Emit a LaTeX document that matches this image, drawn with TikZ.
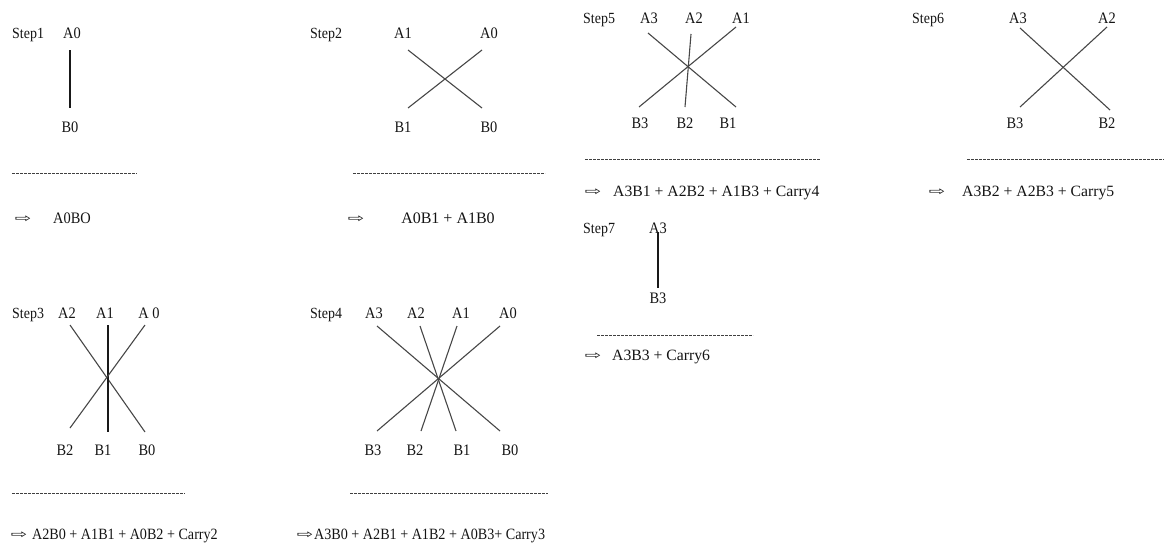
\documentclass[tikz,border=0pt]{standalone}
\usepackage{fontspec}
\setmainfont{Liberation Serif}
\newfontfamily\condfont{Liberation Serif}[FakeStretch=0.9]
\newfontfamily\symfont{DejaVu Sans}
\begin{document}
\begin{tikzpicture}[x=1pt,y=-1pt,
  lbl/.style={anchor=base,inner sep=0pt,text=black!92,font=\condfont\fontsize{16}{16}\selectfont},
  steplbl/.style={anchor=base west,inner sep=0pt,text=black!92,font=\condfont\fontsize{15.5}{15.5}\selectfont},
  frm/.style={anchor=base west,inner sep=0pt,text=black!92,font=\fontsize{15.7}{15.7}\selectfont},
  cfrm/.style={anchor=base west,inner sep=0pt,text=black!92,font=\condfont\fontsize{15.7}{15.7}\selectfont},
  arr/.style={anchor=base,inner sep=0pt,text=black!92,font=\symfont\fontsize{14}{14}\selectfont},
  wire/.style={draw=black!72,line width=1.1pt},
  vwire/.style={draw=black!90,line width=1.1pt},
  sep/.style={draw=black!75,line width=1pt,dash pattern=on 2.8pt off 1.2pt}]
\useasboundingbox (0,0) rectangle (1166,546);
\newcommand{\harrow}{\scalebox{1.4}[0.85]{⇨}}

% ---------- Step 1 ----------
\node[steplbl] (s1) at (12,38) {Step1};
\node[lbl] (s1a0) at (72,38) {A0};
\node[lbl] (s1b0) at (70,132) {B0};
\coordinate (s1p) at (70,50); \coordinate (s1q) at (70,108);
\draw[vwire] (s1p) -- (s1q);
\coordinate (s1d1) at (12,173); \coordinate (s1d2) at (137,173);
\draw[sep] (s1d1) -- (s1d2);
\node[arr] (s1ar) at (23,222) {\harrow};
\node[lbl] (s1f) at (72,223) {A0BO};

% ---------- Step 2 ----------
\node[steplbl] (s2) at (310,38) {Step2};
\node[lbl] (s2a1) at (403,38) {A1};
\node[lbl] (s2a0) at (489,38) {A0};
\node[lbl] (s2b1) at (403,132) {B1};
\node[lbl] (s2b0) at (489,132) {B0};
\coordinate (s2p1) at (408,50); \coordinate (s2q0) at (482,108);
\coordinate (s2p0) at (482,50); \coordinate (s2q1) at (408,108);
\draw[wire] (s2p1) -- (s2q0);
\draw[wire] (s2p0) -- (s2q1);
\coordinate (s2d1) at (353,173); \coordinate (s2d2) at (545,173);
\draw[sep] (s2d1) -- (s2d2);
\node[arr] (s2ar) at (356,222) {\harrow};
\node[lbl,font=\fontsize{16}{16}\selectfont] (s2f) at (448,223) {A0B1 + A1B0};

% ---------- Step 3 ----------
\node[steplbl] (s3) at (12,318) {Step3};
\node[lbl] (s3a2) at (67,318) {A2};
\node[lbl] (s3a1) at (105,318) {A1};
\node[lbl] (s3a0) at (149,318) {A 0};
\node[lbl] (s3b2) at (65,455) {B2};
\node[lbl] (s3b1) at (103,455) {B1};
\node[lbl] (s3b0) at (147,455) {B0};
\coordinate (s3p2) at (70,325); \coordinate (s3q0) at (145,432);
\coordinate (s3p1) at (108,325); \coordinate (s3q1) at (108,432);
\coordinate (s3p0) at (145,325); \coordinate (s3q2) at (70,428);
\draw[wire] (s3p2) -- (s3q0);
\draw[vwire] (s3p1) -- (s3q1);
\draw[wire] (s3p0) -- (s3q2);
\coordinate (s3d1) at (12,493); \coordinate (s3d2) at (185,493);
\draw[sep] (s3d1) -- (s3d2);
\node[arr] (s3ar) at (19,538) {\harrow};
\node[cfrm] (s3f) at (32,539) {A2B0 + A1B1 + A0B2 + Carry2};

% ---------- Step 4 ----------
\node[steplbl] (s4) at (310,318) {Step4};
\node[lbl] (s4a3) at (374,318) {A3};
\node[lbl] (s4a2) at (416,318) {A2};
\node[lbl] (s4a1) at (461,318) {A1};
\node[lbl] (s4a0) at (508,318) {A0};
\node[lbl] (s4b3) at (373,455) {B3};
\node[lbl] (s4b2) at (415,455) {B2};
\node[lbl] (s4b1) at (462,455) {B1};
\node[lbl] (s4b0) at (510,455) {B0};
\coordinate (s4p3) at (377,326); \coordinate (s4q0) at (500,431);
\coordinate (s4p2) at (420,326); \coordinate (s4q1) at (456,431);
\coordinate (s4p1) at (457,326); \coordinate (s4q2) at (421,431);
\coordinate (s4p0) at (500,326); \coordinate (s4q3) at (377,431);
\draw[wire] (s4p3) -- (s4q0);
\draw[wire] (s4p2) -- (s4q1);
\draw[wire] (s4p1) -- (s4q2);
\draw[wire] (s4p0) -- (s4q3);
\coordinate (s4d1) at (350,493); \coordinate (s4d2) at (548,493);
\draw[sep] (s4d1) -- (s4d2);
\node[arr] (s4ar) at (305,538) {\harrow};
\node[cfrm] (s4f) at (314,539) {A3B0 + A2B1 + A1B2 + A0B3+ Carry3};

% ---------- Step 5 ----------
\node[steplbl] (s5) at (583,23) {Step5};
\node[lbl] (s5a3) at (649,23) {A3};
\node[lbl] (s5a2) at (694,23) {A2};
\node[lbl] (s5a1) at (741,23) {A1};
\node[lbl] (s5b3) at (640,128) {B3};
\node[lbl] (s5b2) at (685,128) {B2};
\node[lbl] (s5b1) at (728,128) {B1};
\coordinate (s5p3) at (648,33); \coordinate (s5q1) at (736,107);
\coordinate (s5p2) at (691,34); \coordinate (s5q2) at (685,107);
\coordinate (s5p1) at (736,27); \coordinate (s5q3) at (639,107);
\draw[wire] (s5p3) -- (s5q1);
\draw[wire] (s5p2) -- (s5q2);
\draw[wire] (s5p1) -- (s5q3);
\coordinate (s5d1) at (585,159); \coordinate (s5d2) at (820,159);
\draw[sep] (s5d1) -- (s5d2);
\node[arr] (s5ar) at (593,195) {\harrow};
\node[frm] (s5f) at (613,196) {A3B1 + A2B2 + A1B3 + Carry4};

% ---------- Step 6 ----------
\node[steplbl] (s6) at (912,23) {Step6};
\node[lbl] (s6a3) at (1018,23) {A3};
\node[lbl] (s6a2) at (1107,23) {A2};
\node[lbl] (s6b3) at (1015,128) {B3};
\node[lbl] (s6b2) at (1107,128) {B2};
\coordinate (s6p3) at (1020,28); \coordinate (s6q2) at (1110,110);
\coordinate (s6p2) at (1107,27); \coordinate (s6q3) at (1020,107);
\draw[wire] (s6p3) -- (s6q2);
\draw[wire] (s6p2) -- (s6q3);
\coordinate (s6d1) at (967,159); \coordinate (s6d2) at (1164,159);
\draw[sep] (s6d1) -- (s6d2);
\node[arr] (s6ar) at (937,195) {\harrow};
\node[frm] (s6f) at (962,196) {A3B2 + A2B3 + Carry5};

% ---------- Step 7 ----------
\node[steplbl] (s7) at (583,233) {Step7};
\node[lbl] (s7a3) at (658,233) {A3};
\node[lbl] (s7b3) at (658,303) {B3};
\coordinate (s7p) at (658,232); \coordinate (s7q) at (658,288);
\draw[vwire] (s7p) -- (s7q);
\coordinate (s7d1) at (597,335); \coordinate (s7d2) at (753,335);
\draw[sep] (s7d1) -- (s7d2);
\node[arr] (s7ar) at (593,359) {\harrow};
\node[frm] (s7f) at (612,360) {A3B3 + Carry6};
\end{tikzpicture}
\end{document}
